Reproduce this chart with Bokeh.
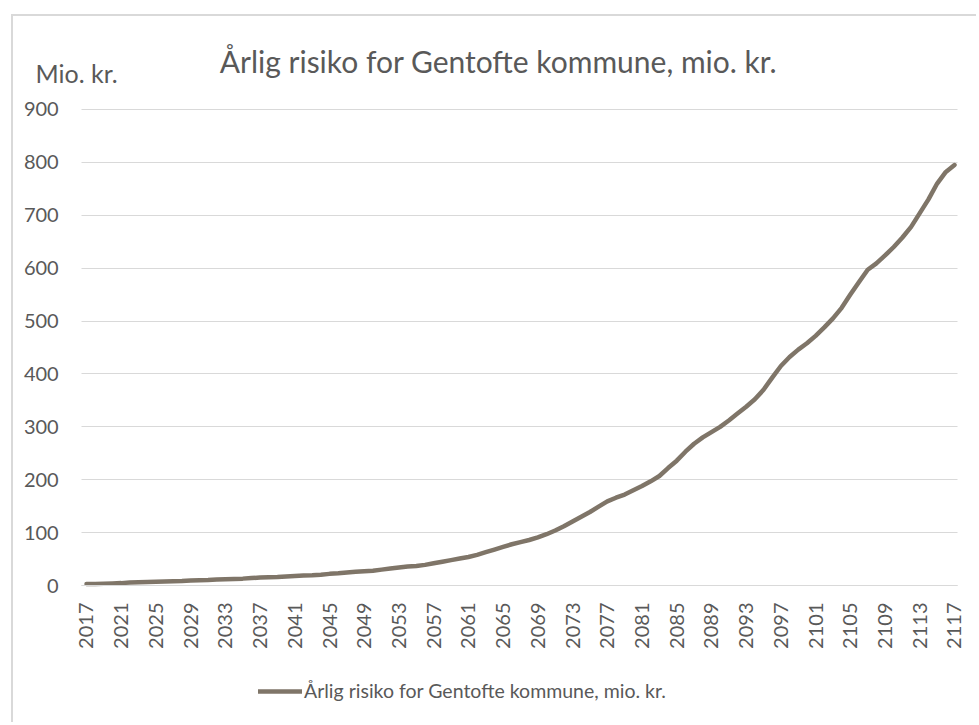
from bokeh.plotting import figure
from bokeh.models import FixedTicker, Label, Legend, LegendItem, ColumnDataSource, Range1d
from bokeh.embed import file_html
from bokeh.resources import INLINE
from math import pi

title_text = "Årlig risiko for Gentofte kommune, mio. kr."
y_unit = "Mio. kr."
series_name = "Årlig risiko for Gentofte kommune, mio. kr."

years = list(range(2017, 2118))
risk = [
    3, 3, 3.5, 4, 4.5, 5.5, 6, 6.5, 7, 7.5,            # 2017-2026
    8, 8.5, 9.5, 10, 10.5, 11.5, 12, 12.5, 13, 14,     # 2027-2036
    15, 15.5, 16, 17, 18, 19, 19.5, 20.5, 22, 23,      # 2037-2046
    24.5, 26, 27, 28, 30, 32, 34, 36, 37, 39,          # 2047-2056
    42, 45, 48, 51, 54, 58, 63, 68, 73, 78,            # 2057-2066
    82, 86, 91, 97, 104, 112, 121, 130, 139, 149,      # 2067-2076
    159, 166, 172, 180, 188, 197, 207, 222, 236, 253,  # 2077-2086
    268, 280, 290, 300, 312, 325, 338, 352, 370, 393,  # 2087-2096
    415, 432, 446, 458, 472, 488, 505, 525, 550, 574,  # 2097-2106
    597, 609, 624, 640, 658, 678, 704, 730, 760, 782,  # 2107-2116
    795,                                               # 2117
]
x_ticks = list(range(2017, 2118, 4))
y_ticks = [0, 100, 200, 300, 400, 500, 600, 700, 800, 900]

FONT = "Lato"
TXT = "#595959"
GRID = "#d9d9d9"
LINE = "#7f7568"
W, H = 965, 708
PLOT_X = (2016.45, 2117.35)       # extent of the plotting area along x

p = figure(width=W, height=H, output_backend="svg", toolbar_location=None, title=None,
           x_range=Range1d(2008.59, 2119.765), y_range=Range1d(-262.8, 1075.8),
           min_border_left=0, min_border_right=0, min_border_top=0, min_border_bottom=0)
p.styles = {"margin-left": "11px", "margin-top": "14px",
            "border-left": "2px solid #d9d9d9", "border-top": "2px solid #d9d9d9"}
p.outline_line_color = None
p.background_fill_color = "white"
p.border_fill_color = "white"

src = ColumnDataSource(dict(year=years, risk=risk))
r = p.line("year", "risk", source=src, line_color=LINE, line_width=4.5,
           line_join="round", line_cap="round")

p.xgrid.grid_line_color = None
p.ygrid.grid_line_color = GRID
p.ygrid.grid_line_width = 1
p.ygrid.ticker = FixedTicker(ticks=y_ticks)
p.ygrid.cross_bounds = PLOT_X

xa = p.xaxis[0]
xa.fixed_location = 0
xa.bounds = PLOT_X
xa.ticker = FixedTicker(ticks=x_ticks)
xa.major_label_orientation = pi / 2
xa.axis_line_color = GRID
xa.axis_line_width = 1
xa.major_tick_out = 0
xa.major_tick_in = 0
xa.minor_tick_out = 0
xa.minor_tick_in = 0
xa.major_label_standoff = 17
xa.major_label_text_font = FONT
xa.major_label_text_font_size = "20px"
xa.major_label_text_color = TXT

ya = p.yaxis[0]
ya.fixed_location = PLOT_X[0]
ya.ticker = FixedTicker(ticks=y_ticks)
ya.axis_line_color = None
ya.major_tick_out = 0
ya.major_tick_in = 0
ya.minor_tick_out = 0
ya.minor_tick_in = 0
ya.major_label_standoff = 23
ya.major_label_text_font = FONT
ya.major_label_text_font_size = "20px"
ya.major_label_text_color = TXT

p.add_layout(Label(x=485, y=664, x_units="screen", y_units="screen", text=title_text,
                   text_align="center", text_baseline="middle", text_font=FONT,
                   text_font_size="30px", text_color=TXT))
p.add_layout(Label(x=22, y=652, x_units="screen", y_units="screen", text=y_unit,
                   text_align="left", text_baseline="middle", text_font=FONT,
                   text_font_size="25px", text_color=TXT))

legend = Legend(items=[LegendItem(label=series_name, renderers=[r])],
                location=(245, 22), orientation="horizontal",
                glyph_width=44, glyph_height=20, label_standoff=2, padding=0, margin=0,
                border_line_color=None, background_fill_alpha=0,
                label_text_font=FONT, label_text_font_size="19.5px", label_text_color=TXT)
p.add_layout(legend, "center")

open("out.html", "w").write(file_html(p, INLINE))
